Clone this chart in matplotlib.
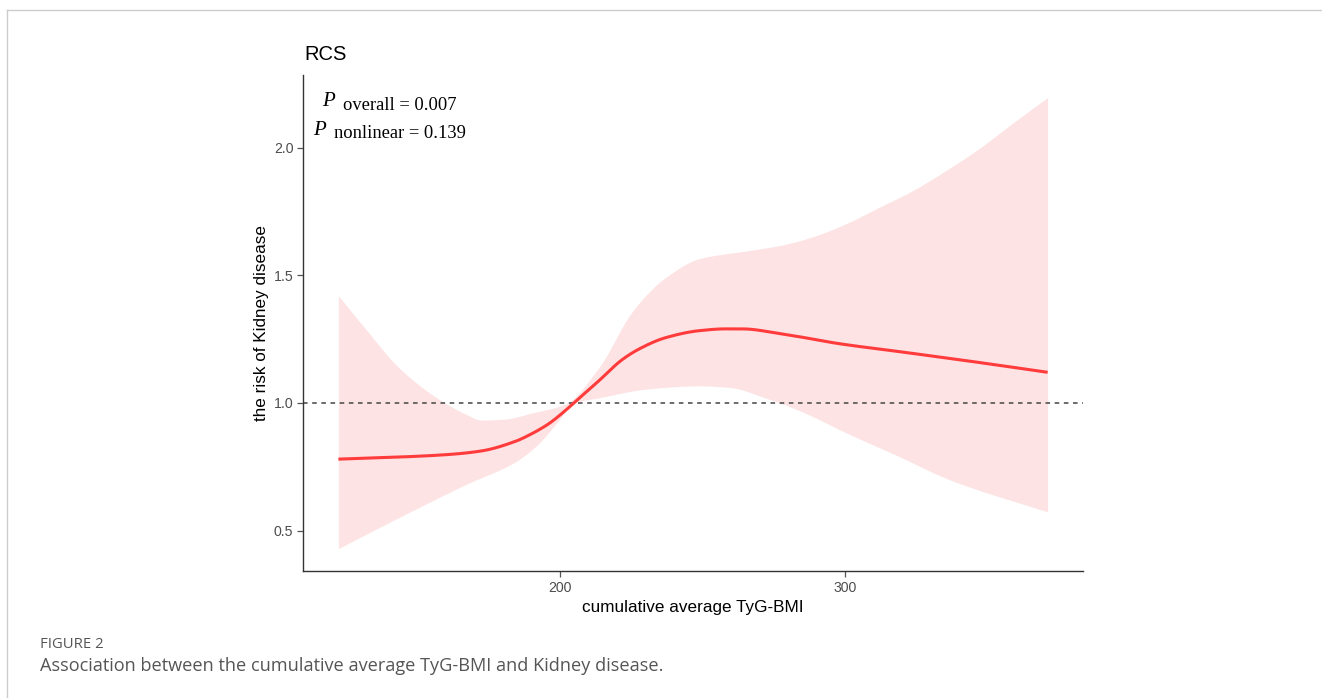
import matplotlib.pyplot as plt
import numpy as np

# RCS curve: cumulative average TyG-BMI vs risk of kidney disease
x_fit = [122.5, 143.5, 161, 172.6, 184.6, 190, 196, 202, 205, 213.7, 222, 228, 237,
         249, 258, 264, 277, 298, 321, 346, 371]
y_fit = [0.780, 0.788, 0.798, 0.812, 0.850, 0.878, 0.917, 0.97, 1.0, 1.086, 1.17, 1.212,
         1.255, 1.283, 1.29, 1.29, 1.272, 1.232, 1.198, 1.16, 1.12]

x_up = [122.5, 132, 143.5, 157.5, 167, 172.6, 181, 190, 202, 213.7, 225, 231, 237, 249,
        266, 277, 288, 300, 312, 323.5, 335.4, 347, 358.6, 371]
y_up = [1.42, 1.29, 1.14, 1.016, 0.957, 0.933, 0.937, 0.96, 0.996, 1.137, 1.35, 1.43, 1.49,
        1.565, 1.596, 1.616, 1.648, 1.70, 1.766, 1.83, 1.91, 1.996, 2.094, 2.196]

x_lo = [122.5, 143.5, 167, 184.6, 192.6, 199.6, 205, 213.7, 231, 248.8, 260, 272, 284, 301, 319,
        336.5, 371]
y_lo = [0.43, 0.55, 0.68, 0.77, 0.84, 0.93, 1.0, 1.02, 1.055, 1.067, 1.06, 1.02, 0.97, 0.88, 0.79,
        0.70, 0.573]

x_ticks = [200, 300]
y_ticks = [0.5, 1.0, 1.5, 2.0]


def pchip(xp, yp, xs):
    # monotone cubic through the read points, just to smooth the drawing
    xp, yp = np.asarray(xp, float), np.asarray(yp, float)
    h = np.diff(xp)
    d = np.diff(yp) / h
    m = np.zeros_like(yp)
    for k in range(1, len(xp) - 1):
        if d[k - 1] * d[k] > 0:
            w1, w2 = 2 * h[k] + h[k - 1], h[k] + 2 * h[k - 1]
            m[k] = (w1 + w2) / (w1 / d[k - 1] + w2 / d[k])
    m[0], m[-1] = d[0], d[-1]
    i = np.clip(np.searchsorted(xp, xs) - 1, 0, len(h) - 1)
    t = (xs - xp[i]) / h[i]
    h00 = 2 * t**3 - 3 * t**2 + 1
    h10 = t**3 - 2 * t**2 + t
    h01 = -2 * t**3 + 3 * t**2
    h11 = t**3 - t**2
    return h00 * yp[i] + h10 * h[i] * m[i] + h01 * yp[i + 1] + h11 * h[i] * m[i + 1]


W, H = 1322, 698
fig = plt.figure(figsize=(W / 100, H / 100), dpi=100)

def fx(px):
    return px / W

def fy(py):
    return 1 - py / H

ax = fig.add_axes([fx(303), fy(571), fx(1083) - fx(303), fy(75) - fy(571)])

xs = np.linspace(122.5, 371, 600)
ax.fill_between(xs, pchip(x_lo, y_lo, xs), pchip(x_up, y_up, xs), color="#fde3e4", lw=0)
ax.axhline(1.0, color="#444444", ls=(0, (3, 3)), lw=1.1)
ax.plot(xs, pchip(x_fit, y_fit, xs), color="#ff3b3b", lw=2.2, solid_capstyle="butt")

ax.set_xlim(110.1, 383.4)
ax.set_ylim(0.342, 2.284)
ax.set_xticks(x_ticks)
ax.set_yticks(y_ticks)
ax.set_yticklabels([f"{v:.1f}" for v in y_ticks])
for s in ["top", "right"]:
    ax.spines[s].set_visible(False)
for s in ["left", "bottom"]:
    ax.spines[s].set_color("#333333")
    ax.spines[s].set_linewidth(1.0)
ax.tick_params(colors="#555555", labelcolor="#4d4d4d", labelsize=10.2, length=4, width=0.9, pad=3)
for lab in ax.get_xticklabels() + ax.get_yticklabels():
    lab.set_family("Liberation Sans")
ax.set_xlabel("cumulative average TyG-BMI", family="Liberation Sans", fontsize=12.3, labelpad=4)
ax.set_ylabel("the risk of Kidney disease", family="Liberation Sans", fontsize=12.3, labelpad=3)

fig.text(fx(304), fy(55), "RCS", family="Liberation Sans", fontsize=14.5, va="center", ha="left")

# P-value annotations
serif = "Liberation Serif"
fig.text(fx(322), fy(106.5), "P", family=serif, style="italic", fontsize=15, va="baseline")
fig.text(fx(343), fy(109.5), "overall = 0.007", family=serif, fontsize=13.3, va="baseline")
fig.text(fx(313), fy(135), "P", family=serif, style="italic", fontsize=15, va="baseline")
fig.text(fx(334), fy(138.3), "nonlinear = 0.139", family=serif, fontsize=13.3, va="baseline")

# caption
fig.text(fx(40), fy(645), "FIGURE 2", family="Open Sans", fontsize=10.7, color="#555555", va="center")
fig.text(fx(40), fy(666), "Association between the cumulative average TyG-BMI and Kidney disease.",
         family="Open Sans", fontsize=13.1, color="#555555", va="center")

# page frame
fig.add_artist(plt.Line2D([fx(7), 1], [fy(10), fy(10)], color="#cccccc", lw=1))
fig.add_artist(plt.Line2D([fx(7), fx(7)], [fy(10), 0], color="#cccccc", lw=1))

fig.savefig("out.png", dpi=100)
